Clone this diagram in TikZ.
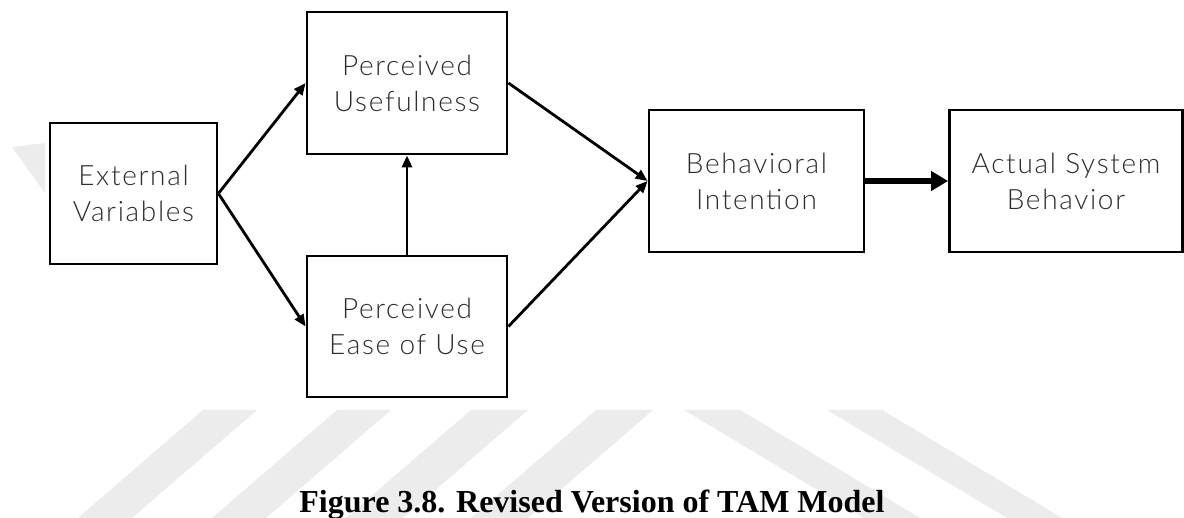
\documentclass[tikz,border=0pt]{standalone}
\usepackage{fontspec}
\setmainfont{Liberation Serif}
\newfontfamily\boxfont{Lato Light}[LetterSpace=6]
\usetikzlibrary{arrows.meta}
\definecolor{wmgrey}{RGB}{236,236,236}
\definecolor{labelgrey}{RGB}{45,45,45}

\tikzset{
  stagebox/.style={draw=black, line width=2.8pt, fill=white, inner sep=0pt,
    align=center, font=\boxfont\fontsize{28}{36}\selectfont, text=labelgrey},
  link/.style={line width=2.8pt, -{Triangle[length=12pt,width=10pt]}},
  boldlink/.style={line width=5.5pt, -{Triangle[length=17pt,width=19pt]}},
  mark stripe/.style={fill=wmgrey, draw=none}
}

\begin{document}
\begin{tikzpicture}[x=1pt,y=-1pt]
  \useasboundingbox (0,0) rectangle (1184,518);
  \fill[white] (0,0) rectangle (1184,518);

  % faint background stripes
  \fill[mark stripe] (12,147) -- (45,143) -- (45,193) -- cycle;
  \foreach \a/\b in {203/257, 337/391, 471/528, 596/653}
    \fill[mark stripe] (\a,410) -- (\b,410) -- (\b-125,518) -- (\a-125,518) -- cycle;
  \foreach \a/\b in {684/740, 827/882}
    \fill[mark stripe] (\a,410) -- (\b,410) -- (\b+180,518) -- (\a+180,518) -- cycle;

  % model stages
  \node[stagebox, minimum width=167pt, minimum height=141pt] (ext) at (133.5,193.5) {External\\Variables};
  \node[stagebox, minimum width=200pt, minimum height=142pt] (pu)  at (407,83)      {Perceived\\Usefulness};
  \node[stagebox, minimum width=200pt, minimum height=141pt] (peou) at (407,326.5)  {Perceived\\Ease of Use};
  \node[stagebox, minimum width=215pt, minimum height=142pt] (bi)  at (756.5,181)   {Behavioral\\Intention};
  \node[stagebox, minimum width=233pt, minimum height=142pt] (asb) at (1066,181)    {Actual System\\Behavior};

  % relations
  \draw[link] (ext.east) -- (pu.west);
  \draw[link] (ext.east) -- (peou.west);
  \draw[link] (peou.north) -- (pu.south);
  \draw[link] (pu.east) -- (bi.west);
  \draw[link] (peou.east) -- (bi.west);
  \draw[boldlink] (bi.east) -- (asb.west);

  % caption
  \node[font=\bfseries\fontsize{32}{36}\selectfont, anchor=base] (cap) at (592,512)
    {Figure 3.8. Revised Version of TAM Model};
\end{tikzpicture}
\end{document}
